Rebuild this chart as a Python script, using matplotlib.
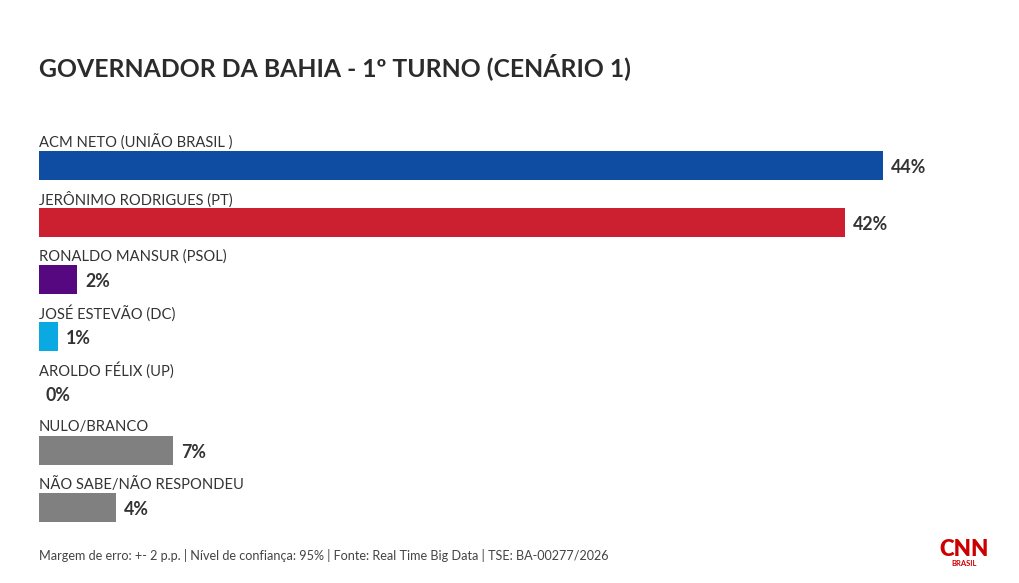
import matplotlib
matplotlib.use("Agg")
import matplotlib.pyplot as plt

categories = ["ACM NETO (UNIÃO BRASIL )", "JERÔNIMO RODRIGUES (PT)", "RONALDO MANSUR (PSOL)",
              "JOSÉ ESTEVÃO (DC)", "AROLDO FÉLIX (UP)", "NULO/BRANCO", "NÃO SABE/NÃO RESPONDEU"]
values = [44, 42, 2, 1, 0, 7, 4]
colors = ["#0E4DA1", "#CC2030", "#55087F", "#0BA9E2", "#888888", "#808080", "#808080"]
value_labels = ["44%", "42%", "2%", "1%", "0%", "7%", "4%"]

title = "GOVERNADOR DA BAHIA - 1º TURNO (CENÁRIO 1)"
footnote = "Margem de erro: +- 2 p.p. | Nível de confiança: 95% | Fonte: Real Time Big Data | TSE: BA-00277/2026"

W, H = 1020, 583
fig = plt.figure(figsize=(W / 100, H / 100), dpi=100)
fig.patch.set_facecolor("white")

FONT = "Lato"
TXT = "#333333"

# axes: x=0 at px 39, 19.18 px per %
px_per = (883 - 39) / 44.0
xmax = 50
left = 39 / W
width = xmax * px_per / W
top_px = 165.5 - 57
bot_px = 165.5 + 57 * 7
ax = fig.add_axes([left, (H - bot_px) / H, width, (bot_px - top_px) / H])
ax.set_xlim(0, xmax)
ax.set_ylim(7, -1)
ax.axis("off")

ys = list(range(len(categories)))
ax.barh(ys, values, height=29 / 57, color=colors, left=0)

for i, (c, v, lab) in enumerate(zip(categories, values, value_labels)):
    ax.text(0, i - 0.41, c, ha="left", va="center", fontsize=10.6, color=TXT, family=FONT)
    off = 8 if v > 0 else 7
    ax.annotate(lab, (v, i + 0.03), xytext=(off, 0), textcoords="offset pixels",
                ha="left", va="center", fontsize=12.8, fontweight="bold", color=TXT, family=FONT)

fig.text(39 / W, 1 - 67 / H, title, ha="left", va="center", fontsize=17.8, fontweight="bold",
         color="#2b2b2b", family=FONT)
fig.text(39 / W, 1 - 556 / H, footnote, ha="left", va="center", fontsize=9.1, color="#444444", family=FONT)

fig.text(964 / W, 1 - 549 / H, "CNN", ha="center", va="center", fontsize=16, fontweight="heavy",
         color="#CC0000", family=FONT)
fig.text(964 / W, 1 - 564 / H, "BRASIL", ha="center", va="center", fontsize=5.5, fontweight="bold",
         color="#CC0000", family=FONT)

fig.savefig("out.png", dpi=100, facecolor="white")
